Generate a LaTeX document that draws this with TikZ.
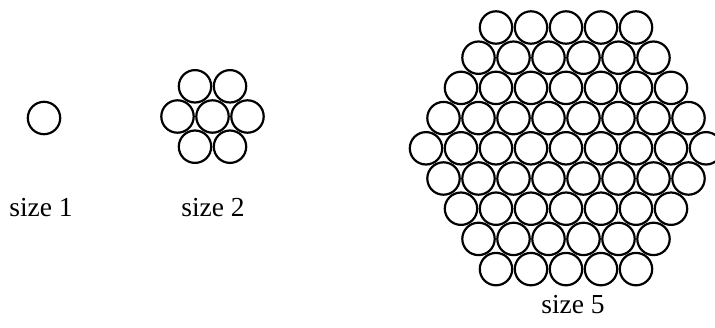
\documentclass[tikz,border=0pt]{standalone}
\usepackage{fontspec}
\setmainfont{Liberation Serif}
\usetikzlibrary{positioning}

\tikzset{
  disc/.style={draw, circle, line width=2.2pt, minimum size=32.4pt, inner sep=0pt},
  caption/.style={font=\fontsize{27.5}{30}\selectfont, anchor=base},
}

% hexagonal cluster: name, centre x, centre y, size
\newcommand{\hexcluster}[4]{%
  \pgfmathtruncatemacro{\lastrow}{#4-1}
  \foreach \r in {-\lastrow,...,\lastrow}{
    \pgfmathtruncatemacro{\cnt}{2*#4-1-abs(\r)}
    \foreach \c in {1,...,\cnt}{
      \node[disc] (#1-\r-\c) at ({#2+(\c-(\cnt+1)/2)*35},{#3+\r*30.2}) {};
    }
  }
}

\begin{document}
\begin{tikzpicture}[x=1pt, y=-1pt]
  \useasboundingbox (0,0) rectangle (715,327);

  % size 1
  \node[disc] (one) at (44,118) {};
  \node[caption] (lblone) at (41,216) {size 1};

  % size 2
  \hexcluster{two}{212.5}{116.5}{2}
  \node[caption] (lbltwo) at (213,216) {size 2};

  % size 5
  \hexcluster{five}{566}{148.3}{5}
  \node[caption] (lblfive) at (573,313) {size 5};
\end{tikzpicture}
\end{document}
